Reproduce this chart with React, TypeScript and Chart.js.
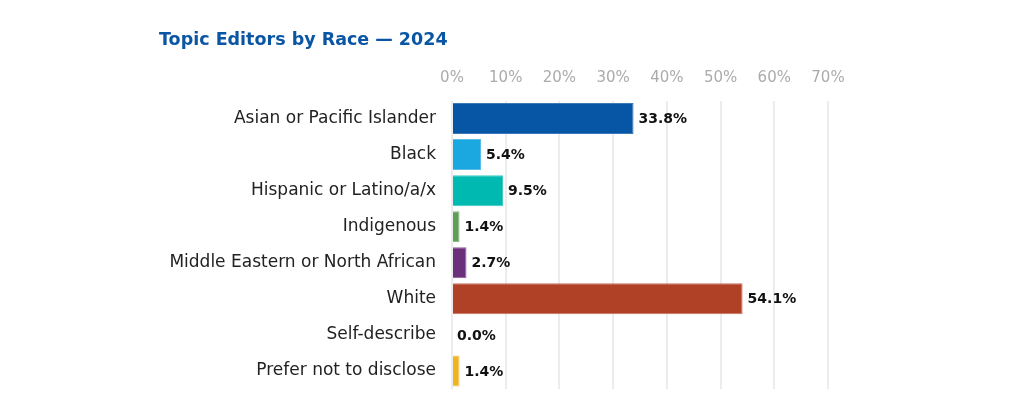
import React, { useEffect, useRef } from "react";
import { Chart, registerables } from "chart.js";

Chart.register(...registerables);

const categories = [
  "Asian or Pacific Islander",
  "Black",
  "Hispanic or Latino/a/x",
  "Indigenous",
  "Middle Eastern or North African",
  "White",
  "Self-describe",
  "Prefer not to disclose",
];
const values = [33.8, 5.4, 9.5, 1.4, 2.7, 54.1, 0.0, 1.4];
const barColors = ["#0656a5", "#1ba8e1", "#00b9b1", "#5f9f55", "#6b2f7b", "#b04026", "#999999", "#f0b323"];
const borderColors = ["#3a78b8", "#58bde8", "#40cbc4", "#86b87e", "#8f5e9c", "#c8705c", "#bbbbbb", "#f4c65a"];
const xTicks = [0, 10, 20, 30, 40, 50, 60, 70];
const title = "Topic Editors by Race \u2014 2024";
const FONT = "'DejaVu Sans', sans-serif";

const valueLabels = {
  id: "valueLabels",
  afterDatasetsDraw(chart: any) {
    const ctx = chart.ctx;
    const meta = chart.getDatasetMeta(0);
    ctx.save();
    ctx.font = `bold 14px ${FONT}`;
    ctx.fillStyle = "#111111";
    ctx.textAlign = "left";
    ctx.textBaseline = "middle";
    meta.data.forEach((bar: any, i: number) => {
      ctx.fillText(values[i].toFixed(1) + "%", bar.x + 5, bar.y + 1);
    });
    ctx.restore();
  },
};

export default function App() {
  const ref = useRef<HTMLCanvasElement>(null);
  useEffect(() => {
    if (!ref.current) return;
    const chart = new Chart(ref.current, {
      type: "bar",
      data: {
        labels: categories,
        datasets: [
          {
            data: values,
            backgroundColor: barColors,
            borderColor: borderColors,
            borderWidth: 1,
            barPercentage: 0.86,
            categoryPercentage: 1,
          },
        ],
      },
      options: {
        indexAxis: "y",
        animation: false,
        responsive: false,
        maintainAspectRatio: false,
        layout: { padding: { left: 159, right: 184, top: 30, bottom: 24 } },
        plugins: {
          legend: { display: false },
          tooltip: { enabled: false },
          title: {
            display: true,
            text: title,
            align: "start",
            color: "#0a56a5",
            font: { family: FONT, size: 17.5, weight: "bold" },
            padding: { top: 0, bottom: 10 },
          },
        },
        scales: {
          x: {
            position: "top",
            min: 0,
            max: 70,
            afterBuildTicks(scale: any) {
              scale.ticks = xTicks.map((v) => ({ value: v }));
            },
            afterFit(scale: any) {
              scale.height = 39.5;
            },
            ticks: {
              color: "#ababab",
              font: { family: FONT, size: 15 },
              padding: 13,
              callback: (v: any) => v + "%",
            },
            grid: { color: "#ececec", lineWidth: 2, drawTicks: false },
            border: { display: false },
          },
          y: {
            afterFit(scale: any) {
              scale.width = 293;
            },
            ticks: {
              color: "#222222",
              font: { family: FONT, size: 17 },
              padding: 8,
            },
            grid: { display: false },
            border: { display: false },
          },
        },
      },
      plugins: [valueLabels],
    });
    return () => chart.destroy();
  }, []);
  return (
    <div style={{ position: "fixed", left: 0, top: 0, width: 1012, height: 413, background: "#fff" }}>
      <canvas ref={ref} width={1012} height={413} style={{ width: 1012, height: 413 }} />
    </div>
  );
}
